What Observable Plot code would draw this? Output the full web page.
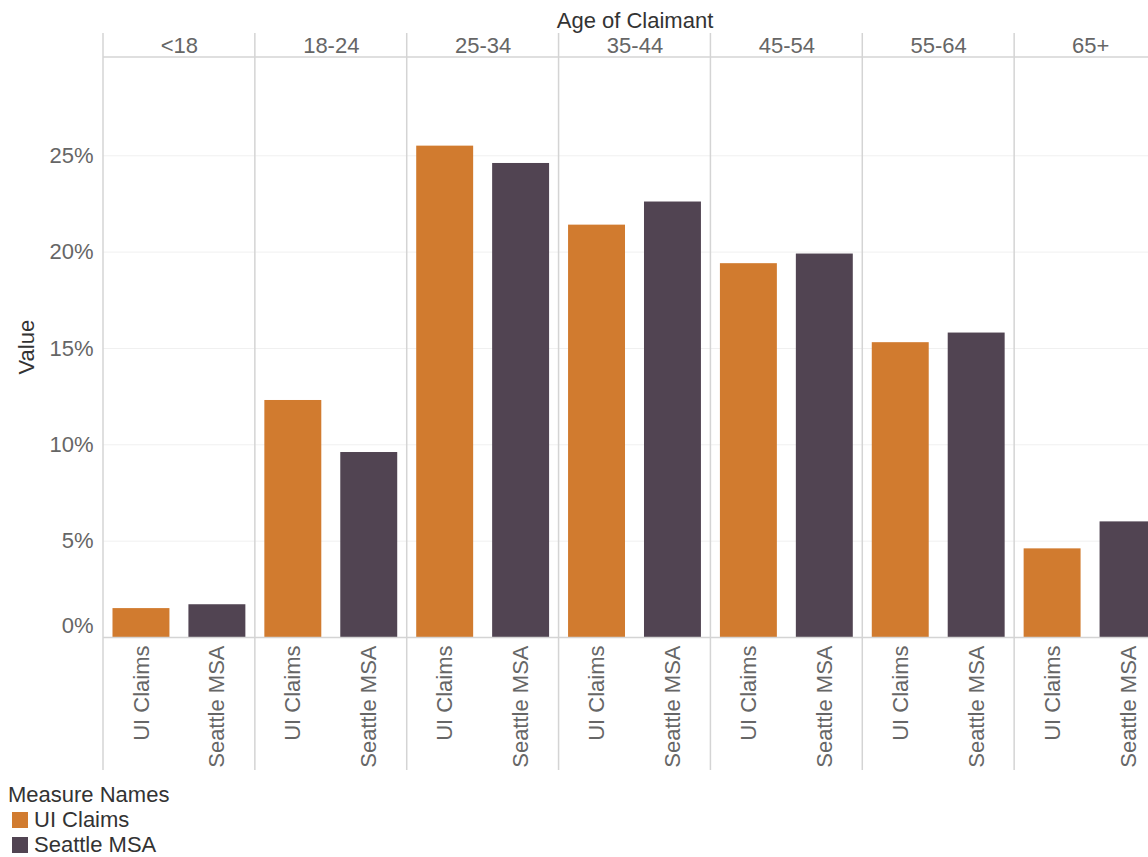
<!DOCTYPE html>
<html>
<head>
<meta charset="utf-8">
<script src="https://cdn.jsdelivr.net/npm/d3@7"></script>
<script src="https://cdn.jsdelivr.net/npm/@observablehq/plot@0.6"></script>
<style>
  html, body { margin: 0; padding: 0; background: #fff; overflow: hidden; width: 1148px; height: 857px; }
  #chart svg { display: block; max-width: none !important; }
  .legend { font-family: "Liberation Sans", Arial, sans-serif; font-size: 22px; color: #333; padding-left: 8px; line-height: 25px; margin-top: 2px; }
  .legend .item { display: flex; align-items: center; padding-left: 4px; }
  .legend .sw { width: 16px; height: 16px; margin-right: 6px; }
</style>
</head>
<body>
<div id="chart"></div>
<div class="legend" id="legend"></div>
<script>
const ages = ["<18", "18-24", "25-34", "35-44", "45-54", "55-64", "65+"];
const measures = ["UI Claims", "Seattle MSA"];
const uiClaims = [1.5, 12.3, 25.5, 21.4, 19.4, 15.3, 4.6];
const seattleMSA = [1.7, 9.6, 24.6, 22.6, 19.9, 15.8, 6.0];
const yTicks = [0, 5, 10, 15, 20, 25];
const colors = ["#d17b2f", "#514452"];

const data = ages.flatMap((a, i) => [
  {age: a, measure: measures[0], value: uiClaims[i]},
  {age: a, measure: measures[1], value: seattleMSA[i]}
]);

const W = 1166, H = 780, ML = 103, MT = 57, MB = 143;
const fmt = d => d + "%";

const plot = Plot.plot({
  width: W, height: H,
  marginLeft: ML, marginRight: 0, marginTop: MT, marginBottom: MB,
  style: {fontFamily: "'Liberation Sans', Arial, sans-serif", fontSize: "22px", color: "#666", background: "#fff", overflow: "visible", maxWidth: "none"},
  fx: {domain: ages, padding: 0, round: false, axis: null},
  x: {domain: measures, paddingInner: 0.25, paddingOuter: 0.125, round: false, axis: null},
  y: {domain: [0, 30.1], axis: null},
  color: {domain: measures, range: colors},
  marks: [
    Plot.ruleY(yTicks.filter(d => d > 0), {stroke: "#f0f0f0", strokeWidth: 1}),
    Plot.barY(data, {fx: "age", x: "measure", y: "value", fill: "measure"}),
    Plot.ruleY([0], {stroke: "#d4d4d4", strokeWidth: 1.5}),
    Plot.axisX({tickRotate: -90, tickSize: 0, tickPadding: 8, label: null, fill: "#666", fontSize: 22}),
    Plot.axisY(yTicks.filter(d => d > 0), {tickFormat: fmt, tickSize: 0, tickPadding: 10, label: null, fill: "#666", fontSize: 22}),
    Plot.axisY([0], {tickFormat: fmt, tickSize: 0, tickPadding: 10, label: null, fill: "#666", fontSize: 22, dy: -12}),
    Plot.axisFx({anchor: "top", tickSize: 0, tickPadding: 5, label: null, fill: "#666", fontSize: 22}),
    Plot.text(["Age of Claimant"], {frameAnchor: "top", lineAnchor: "middle", dy: -37, facet: "super", fill: "#333", fontSize: 22}),
    Plot.text(["Value"], {frameAnchor: "left", lineAnchor: "middle", dx: -77, dy: 27, rotate: -90, facet: "super", fill: "#333", fontSize: 22})
  ]
});

document.getElementById("chart").appendChild(plot);

// facet separator lines, positioned with Plot's fx scale
const fx = plot.scale("fx");
const bw = fx.bandwidth;
const xs = ages.map(a => fx.apply(a)).concat([fx.apply(ages[ages.length - 1]) + bw]);
const g = d3.select(plot).append("g").attr("stroke", "#d4d4d4").attr("stroke-width", 1.5);
xs.forEach(x => {
  g.append("line").attr("x1", x).attr("x2", x).attr("y1", 33).attr("y2", 770);
});
g.append("line").attr("x1", ML).attr("x2", W).attr("y1", MT).attr("y2", MT);

// legend
const leg = document.getElementById("legend");
const title = document.createElement("div");
title.textContent = "Measure Names";
leg.appendChild(title);
measures.forEach((m, i) => {
  const it = document.createElement("div");
  it.className = "item";
  const sw = document.createElement("span");
  sw.className = "sw";
  sw.style.background = colors[i];
  it.appendChild(sw);
  const t = document.createElement("span");
  t.textContent = m;
  it.appendChild(t);
  leg.appendChild(it);
});
</script>
</body>
</html>
